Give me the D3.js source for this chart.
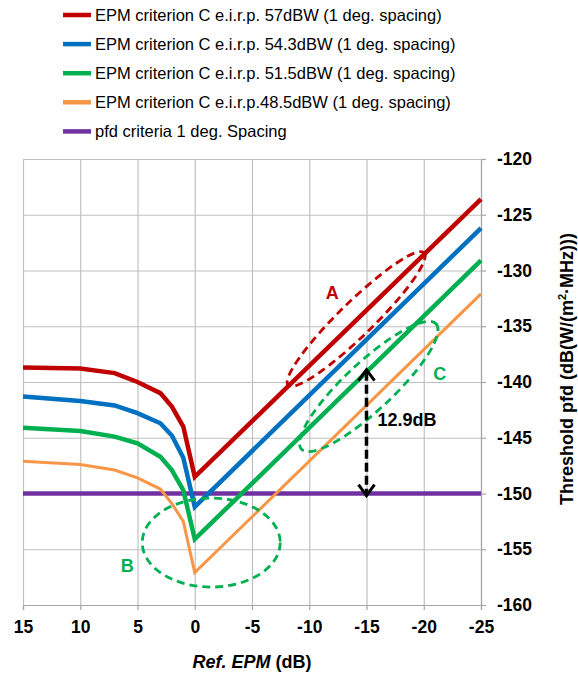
<!DOCTYPE html>
<html>
<head>
<meta charset="utf-8">
<script src="https://cdn.jsdelivr.net/npm/d3@7"></script>
<style>
  body { margin: 0; background: #fff; }
  text { font-family: Arial, "Liberation Sans", sans-serif; }
</style>
</head>
<body>
<div id="chart-area"></div>
<script>
// values
var epm = [15, 10, 7, 5, 3, 2, 1, 0, -25]
var eirp57 = [-138.7, -138.8, -139.2, -140.0, -141.0, -142.2, -144.0, -148.5, -123.6]
var eirp543 = [-141.3, -141.7, -142.1, -142.8, -143.7, -144.8, -146.8, -151.2, -126.2]
var eirp515 = [-144.1, -144.4, -144.9, -145.5, -146.7, -147.9, -149.7, -154.1, -129.1]
var eirp485 = [-147.1, -147.4, -147.9, -148.6, -149.6, -150.9, -152.5, -157.1, -132.1]
var pfdEpm = [15, -25]
var pfdLimit = [-150, -150]

var xTicks = [15, 10, 5, 0, -5, -10, -15, -20, -25]
var yTicks = [-120, -125, -130, -135, -140, -145, -150, -155, -160]

var names = [
  "EPM criterion C e.i.r.p. 57dBW (1 deg. spacing)",
  "EPM criterion C e.i.r.p. 54.3dBW (1 deg. spacing)",
  "EPM criterion C e.i.r.p. 51.5dBW (1 deg. spacing)",
  "EPM criterion C e.i.r.p.48.5dBW (1 deg. spacing)",
  "pfd criteria 1 deg. Spacing"
]
var colors = ["#c00000", "#0070c0", "#00b050", "#f79646", "#7030a0"]
var widths = [4.5, 4.5, 4.5, 3, 4.5]

var width = 578
var height = 677
var plotL = 23, plotR = 481, plotT = 159, plotB = 605

var svg = d3.select("#chart-area")
  .append("svg")
  .attr("width", width)
  .attr("height", height)

var x = d3.scaleLinear().domain([15, -25]).range([plotL, plotR])
var y = d3.scaleLinear().domain([-160, -120]).range([plotB, plotT])

// grid
svg.append("g")
  .attr("class", "grid")
  .attr("transform", `translate(0, ${plotT})`)
  .call(d3.axisTop(x).tickValues(xTicks).tickSize(-(plotB - plotT)).tickFormat(""))
svg.append("g")
  .attr("class", "grid")
  .attr("transform", `translate(${plotL}, 0)`)
  .call(d3.axisLeft(y).tickValues(yTicks).tickSize(-(plotR - plotL)).tickFormat(""))
svg.selectAll(".grid .domain").remove()
svg.selectAll(".grid line").attr("stroke", "#c0c0c0").attr("stroke-width", 1.2)

// axes (plain hyphen minus like the original)
var fmt = (d) => String(d)
var bottomAxis = d3.axisBottom(x).tickValues(xTicks).tickSize(5).tickPadding(11).tickFormat(fmt)
svg.append("g")
  .attr("class", "x axis")
  .attr("transform", `translate(0, ${plotB})`)
  .call(bottomAxis)

var rightAxis = d3.axisRight(y).tickValues(yTicks).tickSize(5).tickPadding(11).tickFormat(fmt)
svg.append("g")
  .attr("class", "y axis")
  .attr("transform", `translate(${plotR}, 0)`)
  .call(rightAxis)

svg.selectAll(".axis .domain").attr("stroke", "#a6a6a6").attr("stroke-width", 1.2)
svg.selectAll(".axis line").attr("stroke", "#a6a6a6").attr("stroke-width", 1.2)
svg.selectAll(".axis text")
  .attr("font-size", "17.5px")
  .attr("font-weight", "bold")
  .attr("font-family", "Arial, 'Liberation Sans', sans-serif")
  .attr("fill", "#000")
svg.selectAll(".y.axis text").attr("text-anchor", "start")

// axis titles
var xt = svg.append("text")
  .attr("x", 252)
  .attr("y", 668)
  .attr("text-anchor", "middle")
  .attr("font-size", "18px")
  .attr("font-weight", "bold")
xt.append("tspan").attr("font-style", "italic").text("Ref. EPM")
xt.append("tspan").text(" (dB)")

var yt = svg.append("text")
  .attr("transform", "translate(573, 369) rotate(-90)")
  .attr("text-anchor", "middle")
  .attr("font-size", "18px")
  .attr("font-weight", "bold")
yt.append("tspan").text("Threshold pfd  (dB(W/(m")
yt.append("tspan").attr("font-size", "11px").attr("dy", "-7").text("2")
yt.append("tspan").attr("dy", "7").text("·MHz)))")

// series
var series = [eirp57, eirp543, eirp515, eirp485].map((vals) => {
  return vals.map((v, i) => [epm[i], v])
})
series.push(pfdLimit.map((v, i) => [pfdEpm[i], v]))

var line = d3.line().x((d) => x(d[0])).y((d) => y(d[1]))

// pfd line sits under the curves
var order = [4, 3, 2, 1, 0]
order.forEach((k) => {
  svg.append("path")
    .datum(series[k])
    .attr("d", line)
    .attr("fill", "none")
    .attr("stroke", colors[k])
    .attr("stroke-width", widths[k])
    .attr("stroke-linejoin", "miter")
})

// annotations: dashed ellipses
function ellipse(cx, cy, rx, ry, angle, color) {
  svg.append("ellipse")
    .attr("transform", `translate(${x(cx)}, ${y(cy)}) rotate(${angle})`)
    .attr("rx", rx)
    .attr("ry", ry)
    .attr("fill", "none")
    .attr("stroke", color)
    .attr("stroke-width", 2.8)
    .attr("stroke-dasharray", "8,5")
}
ellipse(-14.1, -134.35, 95, 17, -44.3, "#c00000")
ellipse(-15.2, -140.4, 92, 24, -43, "#00b050")
ellipse(-1.44, -154.4, 69, 44.5, 0, "#00b050")

function label(t, cx, cy, color) {
  svg.append("text")
    .attr("x", x(cx))
    .attr("y", y(cy))
    .attr("dy", "0.35em")
    .attr("text-anchor", "middle")
    .attr("font-size", "18px")
    .attr("font-weight", "bold")
    .attr("fill", color)
    .text(t)
}
label("A", -12.0, -132.0, "#c00000")
label("B", 5.9, -156.5, "#00b050")
label("C", -21.4, -139.3, "#00b050")

// 12.9 dB double arrow at -15
var ax = x(-15), ay1 = y(-138.9), ay2 = y(-150.2)
svg.append("line")
  .attr("x1", ax).attr("x2", ax)
  .attr("y1", ay1 + 2).attr("y2", ay2 - 2)
  .attr("stroke", "#000")
  .attr("stroke-width", 3.5)
  .attr("stroke-dasharray", "9,4")
svg.append("polyline")
  .attr("points", `${ax - 8},${ay1 + 11} ${ax},${ay1} ${ax + 8},${ay1 + 11}`)
  .attr("fill", "none").attr("stroke", "#000").attr("stroke-width", 3)
svg.append("polyline")
  .attr("points", `${ax - 8},${ay2 - 11} ${ax},${ay2} ${ax + 8},${ay2 - 11}`)
  .attr("fill", "none").attr("stroke", "#000").attr("stroke-width", 3)
svg.append("text")
  .attr("x", ax + 11)
  .attr("y", y(-143.4))
  .attr("dy", "0.35em")
  .attr("font-size", "18px")
  .attr("font-weight", "bold")
  .text("12.9dB")

// legend
var legend = svg.append("g").attr("class", "legend")
names.forEach((n, i) => {
  var ly = 15 + i * 29.1
  legend.append("line")
    .attr("x1", 63).attr("x2", 91)
    .attr("y1", ly).attr("y2", ly)
    .attr("stroke", colors[i])
    .attr("stroke-width", 4.5)
  legend.append("text")
    .attr("x", 95)
    .attr("y", ly)
    .attr("dy", "0.36em")
    .attr("font-size", "16.5px")
    .text(n)
})
</script>
</body>
</html>
